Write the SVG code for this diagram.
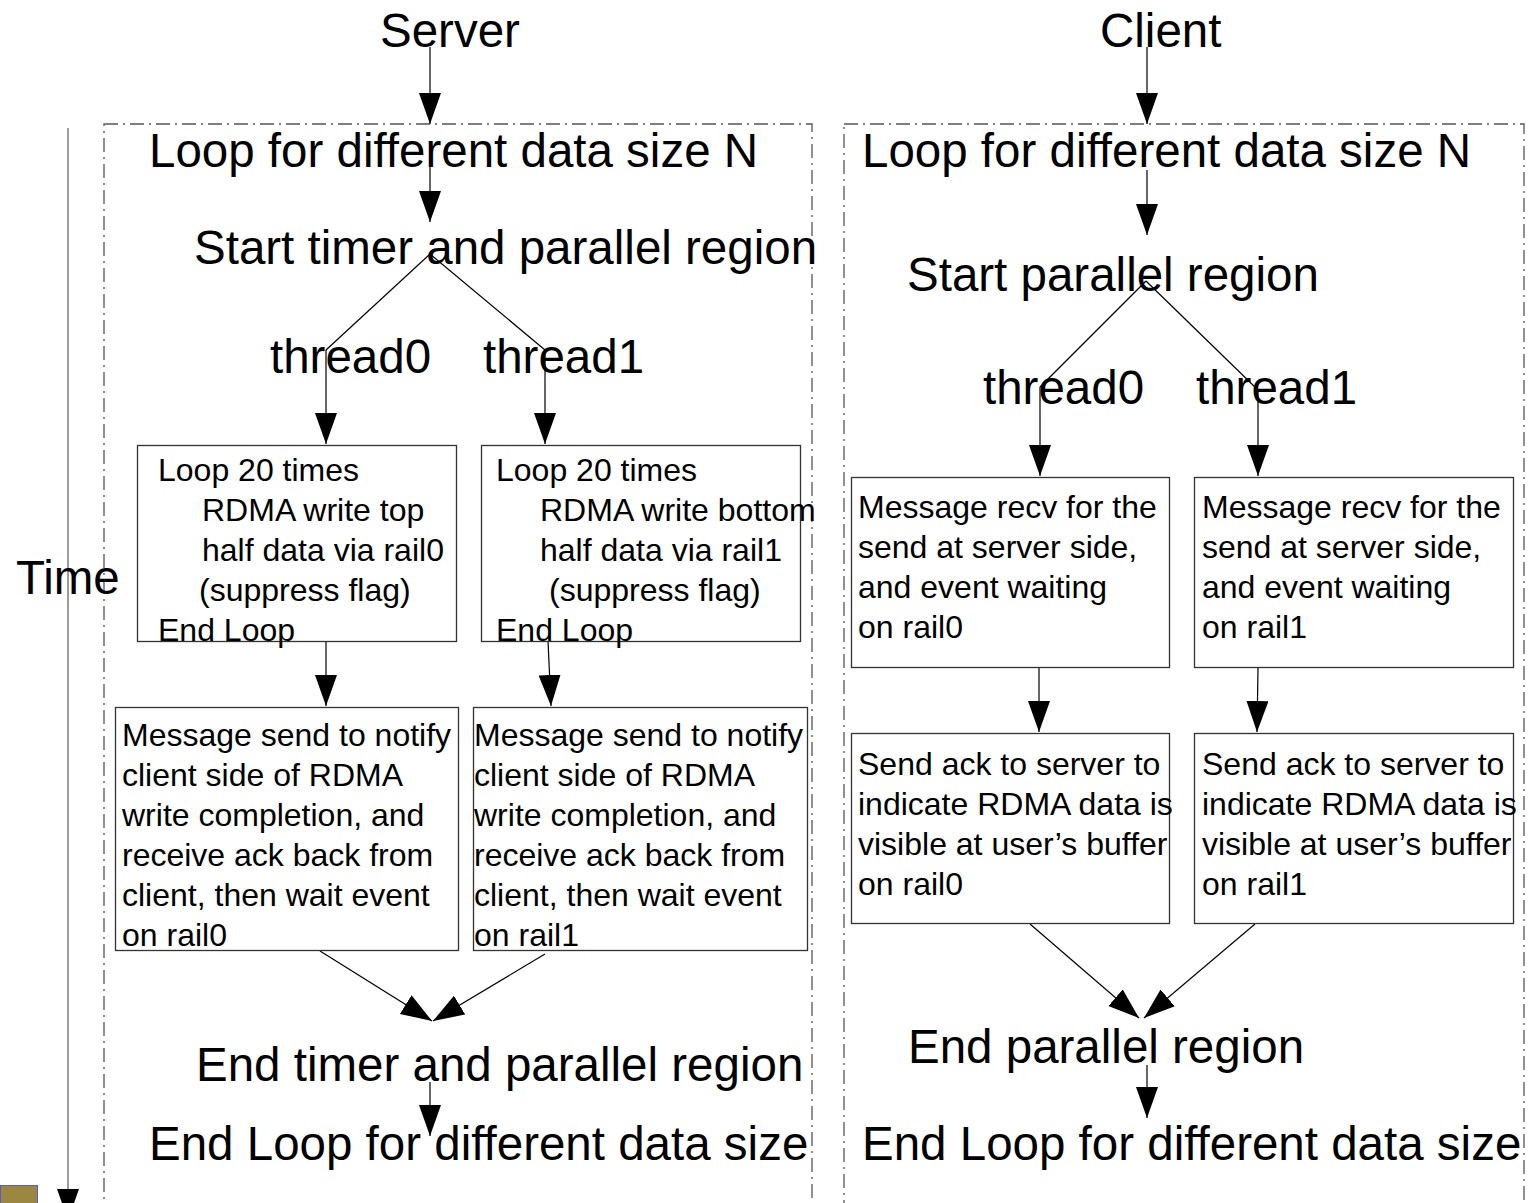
<svg xmlns="http://www.w3.org/2000/svg" width="1533" height="1203" viewBox="0 0 1533 1203">
<style>
.big{font-family:"Liberation Sans",Arial,sans-serif;font-size:47.5px;fill:#000}
.sm{font-family:"Liberation Sans",Arial,sans-serif;font-size:32px;fill:#000}
.box{fill:#fff;stroke:#333;stroke-width:1.3}
.panel{fill:none;stroke:#555;stroke-width:1.3;stroke-dasharray:14 5 2 5}
.ln{fill:none;stroke:#000;stroke-width:1.2}
</style>
<defs>
<marker id="ah" markerUnits="userSpaceOnUse" markerWidth="32" markerHeight="24" refX="31" refY="11" orient="auto">
<path d="M0,0 L31,11 L0,22 Z" fill="#000"/>
</marker>
</defs>
<rect width="1533" height="1203" fill="#fff"/>

<g id="panels">
<rect class="panel" x="104" y="124" width="708" height="1100"/>
<rect class="panel" x="844" y="124" width="680" height="1100"/>
</g>

<g id="time-axis">
<line x1="68" y1="128" x2="68" y2="1220" stroke="#666" stroke-width="1.3" marker-end="url(#ah)"/>
<text class="big" x="16" y="594">Time</text>
<rect x="0.5" y="1185.5" width="37" height="20" fill="#9b8742" stroke="#5a5ac8" stroke-width="1"/>
</g>

<g id="connectors">
<!-- server -->
<line class="ln" x1="430" y1="47" x2="430" y2="124" marker-end="url(#ah)"/>
<line class="ln" x1="430" y1="167" x2="430" y2="222" marker-end="url(#ah)"/>
<line class="ln" x1="430" y1="254" x2="326" y2="350"/>
<line class="ln" x1="430" y1="254" x2="545" y2="350"/>
<line class="ln" x1="326" y1="350" x2="326" y2="444" marker-end="url(#ah)"/>
<line class="ln" x1="545" y1="350" x2="545" y2="444" marker-end="url(#ah)"/>
<line class="ln" x1="326" y1="641" x2="326" y2="706" marker-end="url(#ah)"/>
<line class="ln" x1="548" y1="641" x2="551" y2="706" marker-end="url(#ah)"/>
<line class="ln" x1="320" y1="951" x2="432" y2="1021" marker-end="url(#ah)"/>
<line class="ln" x1="545" y1="954" x2="433" y2="1021" marker-end="url(#ah)"/>
<line class="ln" x1="430" y1="1082" x2="430" y2="1136" marker-end="url(#ah)"/>
<!-- client -->
<line class="ln" x1="1147" y1="47" x2="1147" y2="124" marker-end="url(#ah)"/>
<line class="ln" x1="1147" y1="170" x2="1147" y2="235" marker-end="url(#ah)"/>
<line class="ln" x1="1146" y1="281" x2="1040" y2="387"/>
<line class="ln" x1="1146" y1="281" x2="1258" y2="390"/>
<line class="ln" x1="1040" y1="387" x2="1040" y2="476" marker-end="url(#ah)"/>
<line class="ln" x1="1258" y1="390" x2="1258" y2="476" marker-end="url(#ah)"/>
<line class="ln" x1="1039" y1="668" x2="1039" y2="732" marker-end="url(#ah)"/>
<line class="ln" x1="1258" y1="668" x2="1257" y2="732" marker-end="url(#ah)"/>
<line class="ln" x1="1030" y1="924" x2="1139" y2="1018" marker-end="url(#ah)"/>
<line class="ln" x1="1255" y1="924" x2="1144" y2="1018" marker-end="url(#ah)"/>
<line class="ln" x1="1147" y1="1065" x2="1147" y2="1118" marker-end="url(#ah)"/>
</g>

<g id="server-labels">
<text class="big" x="380" y="47">Server</text>
<text class="big" x="149" y="167">Loop for different data size N</text>
<text class="big" x="194" y="264">Start timer and parallel region</text>
<text class="big" x="270" y="373">thread0</text>
<text class="big" x="483" y="373">thread1</text>
<text class="big" x="196" y="1081">End timer and parallel region</text>
<text class="big" x="149" y="1160">End Loop for different data size</text>
</g>

<g id="client-labels">
<text class="big" x="1100" y="47">Client</text>
<text class="big" x="862" y="167">Loop for different data size N</text>
<text class="big" x="907" y="291">Start parallel region</text>
<text class="big" x="983" y="404">thread0</text>
<text class="big" x="1196" y="404">thread1</text>
<text class="big" x="908" y="1063">End parallel region</text>
<text class="big" x="862" y="1160">End Loop for different data size</text>
</g>

<g id="s-loop0">
<rect class="box" x="137.5" y="445.5" width="319" height="196"/>
<text class="sm"><tspan x="158" y="481">Loop 20 times</tspan><tspan x="202" y="521">RDMA write top</tspan><tspan x="202" y="561">half data via rail0</tspan><tspan x="199" y="601">(suppress flag)</tspan><tspan x="158" y="641">End Loop</tspan></text>
</g>
<g id="s-loop1">
<rect class="box" x="481.5" y="445.5" width="319" height="196"/>
<text class="sm"><tspan x="496" y="481">Loop 20 times</tspan><tspan x="540" y="521">RDMA write bottom</tspan><tspan x="540" y="561">half data via rail1</tspan><tspan x="549" y="601">(suppress flag)</tspan><tspan x="496" y="641">End Loop</tspan></text>
</g>
<g id="s-send0">
<rect class="box" x="115.5" y="707.5" width="343" height="243"/>
<text class="sm"><tspan x="122" y="746">Message send to notify</tspan><tspan x="122" y="786">client side of RDMA</tspan><tspan x="122" y="826">write completion, and</tspan><tspan x="122" y="866">receive ack back from</tspan><tspan x="122" y="906">client, then wait event</tspan><tspan x="122" y="946">on rail0</tspan></text>
</g>
<g id="s-send1">
<rect class="box" x="473.5" y="707.5" width="334" height="243"/>
<text class="sm"><tspan x="474" y="746">Message send to notify</tspan><tspan x="474" y="786">client side of RDMA</tspan><tspan x="474" y="826">write completion, and</tspan><tspan x="474" y="866">receive ack back from</tspan><tspan x="474" y="906">client, then wait event</tspan><tspan x="474" y="946">on rail1</tspan></text>
</g>

<g id="c-recv0">
<rect class="box" x="851.5" y="477.5" width="318" height="190"/>
<text class="sm"><tspan x="858" y="518">Message recv for the</tspan><tspan x="858" y="558">send at server side,</tspan><tspan x="858" y="598">and event waiting</tspan><tspan x="858" y="638">on rail0</tspan></text>
</g>
<g id="c-recv1">
<rect class="box" x="1194.5" y="477.5" width="319" height="190"/>
<text class="sm"><tspan x="1202" y="518">Message recv for the</tspan><tspan x="1202" y="558">send at server side,</tspan><tspan x="1202" y="598">and event waiting</tspan><tspan x="1202" y="638">on rail1</tspan></text>
</g>
<g id="c-ack0">
<rect class="box" x="851.5" y="733.5" width="318" height="190"/>
<text class="sm"><tspan x="858" y="775">Send ack to server to</tspan><tspan x="858" y="815">indicate RDMA data is</tspan><tspan x="858" y="855">visible at user’s buffer</tspan><tspan x="858" y="895">on rail0</tspan></text>
</g>
<g id="c-ack1">
<rect class="box" x="1194.5" y="733.5" width="319" height="190"/>
<text class="sm"><tspan x="1202" y="775">Send ack to server to</tspan><tspan x="1202" y="815">indicate RDMA data is</tspan><tspan x="1202" y="855">visible at user’s buffer</tspan><tspan x="1202" y="895">on rail1</tspan></text>
</g>
</svg>
